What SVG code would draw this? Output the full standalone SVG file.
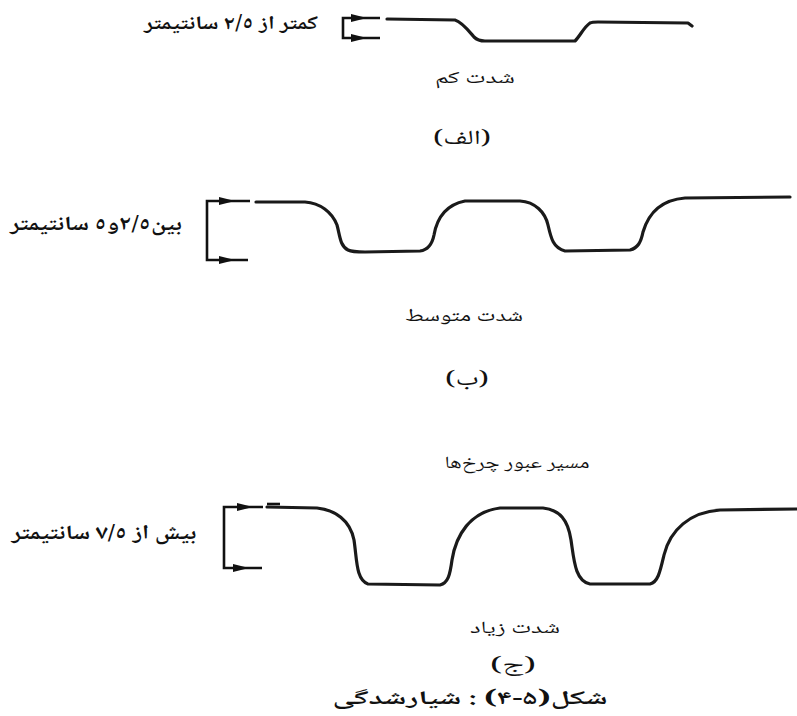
<svg xmlns="http://www.w3.org/2000/svg" width="797" height="716" viewBox="0 0 797 716">
<style>
.t{font-family:"Noto Naskh Arabic","Noto Sans Arabic","DejaVu Sans",sans-serif;fill:#111;text-anchor:middle;direction:rtl}
.b{font-weight:bold}
.road{fill:none;stroke:#1a1a1a;stroke-width:3.2;stroke-linecap:round;stroke-linejoin:round}
.br{fill:none;stroke:#111;stroke-width:2.6}
.ah{fill:#111}
</style>
<rect width="797" height="716" fill="#fff"/>
<g id="panel-a">
<path class="road" d="M387,19 L455,20 C462,22 468,30 474,37 C477,40 480,41 485,41 L575,41 C580,36 584,27 590,23 C592,22 594,22 598,22 L688,23 L692,26"/>
<text class="t b" x="231" y="29" font-size="19" textLength="174" lengthAdjust="spacingAndGlyphs">کمتر از ٢/٥ سانتیمتر</text>
<text class="t" x="475" y="83" font-size="17" textLength="80" lengthAdjust="spacingAndGlyphs">شدت کم</text>
<text class="t" x="462" y="144" font-size="20" textLength="58" lengthAdjust="spacingAndGlyphs">(الف)</text>
</g>
<g id="panel-b">
<path class="road" d="M256,202 L305,202 C320,203 332,212 337,225 C340,236 340,246 348,250 C352,252 358,252 365,252 L420,251 C428,250 432,245 434,235 C437,218 445,205 465,201 L520,201 C535,202 545,212 548,225 C551,238 553,248 565,251 L630,250 C638,248 641,242 643,232 C648,215 660,200 685,198 L790,197"/>
<text class="t b" x="96" y="230" font-size="20" textLength="172" lengthAdjust="spacingAndGlyphs">بین٢/٥و٥ سانتیمتر</text>
<text class="t" x="464" y="321" font-size="18" textLength="118" lengthAdjust="spacingAndGlyphs">شدت متوسط</text>
<text class="t" x="467" y="385" font-size="20" textLength="44" lengthAdjust="spacingAndGlyphs">(ب)</text>
</g>
<g id="panel-c">
<path class="road" d="M267,507 L317,508 C335,510 350,520 354,540 C357,560 356,580 368,584 L440,585 C448,583 450,575 452,560 C456,535 470,512 500,508 L543,508 C560,510 568,520 571,540 C574,560 575,581 590,584 L650,584 C658,582 660,572 664,555 C670,530 690,512 720,510 L797,509"/>
<text class="t" x="517" y="468" font-size="17" textLength="145" lengthAdjust="spacingAndGlyphs">مسیر عبور چرخ‌ها</text>
<text class="t b" x="104" y="539" font-size="20" textLength="185" lengthAdjust="spacingAndGlyphs">بیش از ٧/٥ سانتیمتر</text>
<text class="t" x="515" y="633" font-size="17" textLength="90" lengthAdjust="spacingAndGlyphs">شدت زیاد</text>
<text class="t" x="513" y="671" font-size="19" textLength="46" lengthAdjust="spacingAndGlyphs">(ج)</text>
</g>
<g id="caption">
<text class="t b" x="470" y="704" font-size="19" textLength="275" lengthAdjust="spacingAndGlyphs">شکل(۵-۴) : شیارشدگی</text>
</g>
<g id="connectors">
<path class="br" d="M380,18 H343 V38 H380"/>
<polygon class="ah" points="351,14 367,18 351,22"/>
<polygon class="ah" points="351,34 367,38 351,42"/>
<path class="br" d="M250,201 H207 V260 H248"/>
<polygon class="ah" points="219,197 235,201 219,205"/>
<polygon class="ah" points="219,256 235,260 219,264"/>
<path class="br" d="M263,507 H224 V568 H262"/>
<polygon class="ah" points="237,503 253,507 237,511"/>
<polygon class="ah" points="233,564 249,568 233,572"/>
<path class="br" d="M267,504 H280"/>
</g>
</svg>
